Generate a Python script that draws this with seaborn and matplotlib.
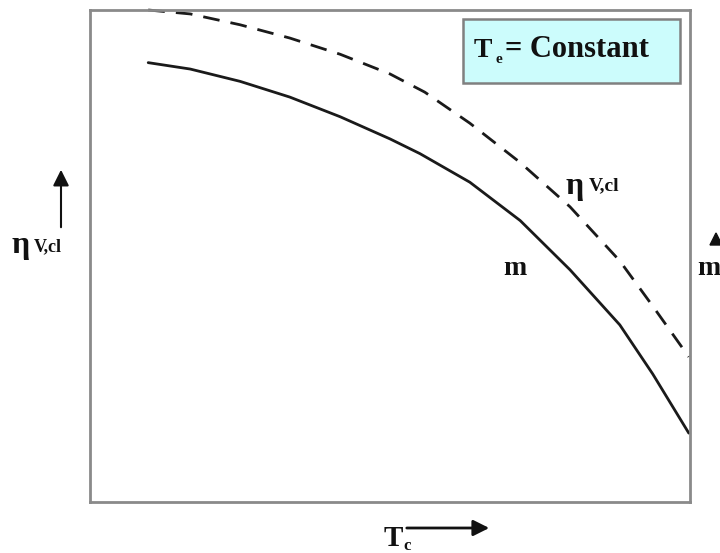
import numpy as np
import pandas as pd
import matplotlib
matplotlib.use("Agg")
import matplotlib.pyplot as plt
import seaborn as sns

# Condensing temperature (relative scale) and the two efficiency curves
tc_solid = [0.97, 1.67, 2.5, 3.33, 4.17, 5.0, 5.5, 6.33, 7.17, 8.0, 8.83, 9.38, 9.98]
m_solid = [8.93, 8.80, 8.55, 8.23, 7.83, 7.38, 7.08, 6.50, 5.72, 4.72, 3.60, 2.60, 1.40]

tc_dash = [0.97, 1.67, 2.5, 3.33, 4.17, 5.0, 5.58, 6.33, 7.17, 8.0, 8.83, 9.38, 9.98]
eta_dash = [10.0, 9.92, 9.70, 9.43, 9.10, 8.70, 8.33, 7.70, 6.90, 6.0, 4.90, 3.98, 2.95]

sns.set_theme(style="white")
serif = ["Liberation Serif", "DejaVu Serif"]
plt.rcParams["font.family"] = serif

fig = plt.figure(figsize=(7.2, 5.53), dpi=100)
ax = fig.add_axes([90 / 720, 51 / 553, 600 / 720, 492 / 553])

solid_df = pd.DataFrame({"Tc": tc_solid, "val": m_solid})
dash_df = pd.DataFrame({"Tc": tc_dash, "val": eta_dash})
sns.lineplot(data=solid_df, x="Tc", y="val", ax=ax, color="#1a1a1a", lw=2.0,
             sort=False, clip_on=False)
sns.lineplot(data=dash_df, x="Tc", y="val", ax=ax, color="#1a1a1a", lw=2.0,
             sort=False, clip_on=False)
ax.lines[1].set_dashes([6, 4])
for ln in ax.lines:
    ln.set_solid_joinstyle("round")
    ln.set_dash_joinstyle("round")

ax.set_xlim(0, 10)
ax.set_ylim(0, 10)
ax.set_xticks([])
ax.set_yticks([])
ax.set_xlabel("")
ax.set_ylabel("")
for s in ax.spines.values():
    s.set_color("#8a8a8a")
    s.set_linewidth(2.0)

bold = dict(fontweight="bold", color="#111111", family=serif)

# Box stating the evaporating temperature condition
fig.patches.append(matplotlib.patches.Rectangle(
    (463 / 720, 1 - 83 / 553), 217 / 720, 64 / 553, transform=fig.transFigure,
    facecolor="#ccfcfc", edgecolor="#808080", lw=1.8))
fig.text(474 / 720, 1 - 57 / 553, "T", fontsize=20, ha="left", va="baseline", **bold)
fig.text(495 / 720, 1 - 63 / 553, "e", fontsize=11, ha="left", va="baseline", **bold)
fig.text(505 / 720, 1 - 57 / 553, "= Constant", fontsize=22, ha="left", va="baseline", **bold)

# Curve labels
fig.text(566 / 720, 1 - 194 / 553, "η", fontsize=23, ha="left", va="baseline", **bold)
fig.text(589 / 720, 1 - 190 / 553, "V,cl", fontsize=14, ha="left", va="baseline", **bold)
fig.text(503 / 720, 1 - 275 / 553, "m", fontsize=20, ha="left", va="baseline", **bold)

# Right-side quantity, partially beyond the figure edge
fig.text(697 / 720, 1 - 275 / 553, "m", fontsize=20, ha="left", va="baseline", **bold)
fig.patches.append(matplotlib.patches.FancyArrow(
    716 / 720, 1 - 245 / 553, 0, 12 / 553, width=0.0, head_width=12 / 720,
    head_length=12 / 553, length_includes_head=True, transform=fig.transFigure,
    color="#111111"))

# Y-axis label with arrow
fig.text(11 / 720, 1 - 253 / 553, "η", fontsize=23, ha="left", va="baseline", **bold)
fig.text(34 / 720, 1 - 251 / 553, "V,cl", fontsize=13, ha="left", va="baseline", **bold)
fig.add_artist(matplotlib.patches.FancyArrowPatch(
    (61 / 720, 1 - 230 / 553), (61 / 720, 1 - 167 / 553), transform=fig.transFigure,
    arrowstyle="-|>,head_length=6,head_width=3", color="#111111", lw=1.5,
    mutation_scale=1.6))

# X-axis label with arrow
fig.text(384 / 720, 1 - 546 / 553, "T", fontsize=21, ha="left", va="baseline", **bold)
fig.text(403 / 720, 1 - 550 / 553, "c", fontsize=12, ha="left", va="baseline", **bold)
fig.add_artist(matplotlib.patches.FancyArrowPatch(
    (404 / 720, 1 - 528 / 553), (492 / 720, 1 - 528 / 553), transform=fig.transFigure,
    arrowstyle="-|>,head_length=6,head_width=3", color="#111111", lw=2.0,
    mutation_scale=1.6))

fig.savefig("out.png", dpi=100, facecolor="white")
